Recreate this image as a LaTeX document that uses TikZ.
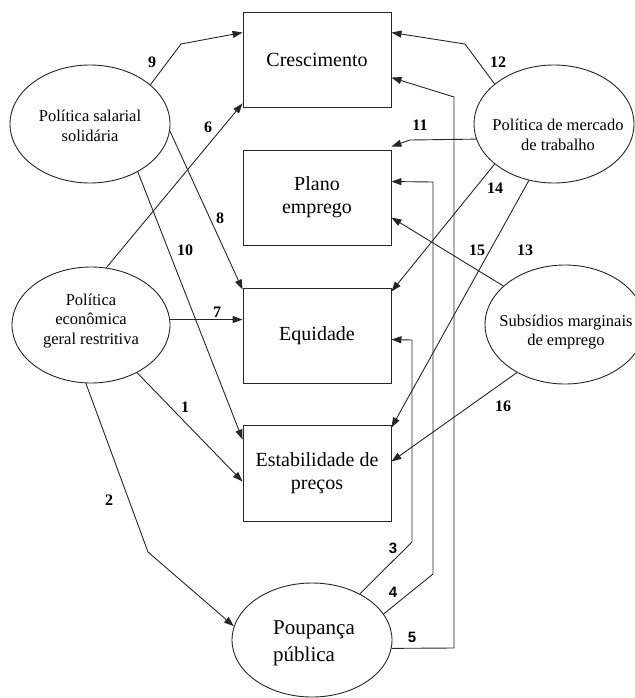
\documentclass[tikz,border=0pt]{standalone}
\usepackage{fontspec}
\setmainfont{Liberation Serif}
\newfontfamily\numsans{Liberation Sans}
\usetikzlibrary{arrows.meta,shapes.geometric}
\begin{document}
\begin{tikzpicture}[x=1pt,y=-1pt,
  conn/.style={draw=black!85,line width=0.9pt},
  arr/.style={conn,-{Triangle[length=10pt,width=7pt]}},
  box/.style={draw=black!85,line width=0.9pt,minimum width=148pt,minimum height=95pt,inner sep=0pt,align=center,font=\fontsize{20}{23}\selectfont},
  oval/.style={draw=black!85,line width=0.9pt,ellipse,inner sep=0pt,minimum width=160pt,minimum height=118pt},
  otext/.style={align=center,font=\fontsize{16.5}{19.5}\selectfont,inner sep=0pt},
  num/.style={font=\fontsize{16}{16}\selectfont\bfseries,inner sep=0pt},
  snum/.style={font=\fontsize{15}{15}\selectfont\numsans\bfseries,inner sep=0pt}]
\useasboundingbox (0,0) rectangle (634,698);
% boxes
\node[box] (cre) at (317,59.5) {Crescimento};
\node[box] (pla) at (317,197.5) {Plano\\emprego};
\node[box] (equ) at (317,335.5) {Equidade};
\node[box,minimum height=96pt] (est) at (317,473) {Estabilidade de\\preços};
% ellipses
\node[oval] (sal) at (90,124) {};
\node[otext] (salT) at (90,126) {Política salarial\\solidária};
\node[oval,minimum width=158pt,minimum height=116pt] (eco) at (91,325) {};
\node[otext] (ecoT) at (91,321) {Política\\econômica\\geral restritiva};
\node[oval] (mer) at (554,124) {};
\node[otext] (merT) at (558,135) {Política de mercado\\de trabalho};
\node[oval,minimum height=119pt] (sub) at (565,324.5) {};
\node[otext] (subT) at (566,332) {Subsídios marginais\\de emprego};
\node[oval,minimum height=114pt] (pou) at (312,640) {};
\node[font=\fontsize{21}{27}\selectfont,align=left,inner sep=0pt] (pouT) at (314,643) {Poupança\\pública};
% connectors
\draw[arr] (sal.33) -- (181,44) -- ([yshift=-21pt]cre.north west);
\draw[arr] (eco.75) -- ([yshift=4pt]cre.south west);
\draw[arr] (sal.-5) -- ([yshift=-2pt]equ.north west);
\draw[arr] (sal.-45) -- ([yshift=-15pt]est.north west);
\draw[arr] (eco.4) -- ([yshift=-32pt]equ.north west);
\draw[arr] (eco.-46) -- ([yshift=-57pt]est.north west);
\draw[arr] (eco.-95) -- (148,552) -- (pou.170);
\draw[arr] (mer.146) -- (465,44) -- ([yshift=-21pt]cre.north east);
\draw[arr] (mer.191) -- (410,140) -- ([yshift=3pt]pla.north east);
\draw[arr] (mer.214) -- ([yshift=-4pt]equ.north east);
\draw[arr] (mer.246) -- ([yshift=-3pt]est.north east);
\draw[arr] (sub.148) -- ([yshift=-68pt]pla.north east);
\draw[arr] (sub.225) -- ([yshift=-37pt]est.north east);
\draw[arr] (pou.44) -- (412,542) -- (412,340) -- ([yshift=-52pt]equ.north east);
\draw[arr] (pou.20) -- (433,574) -- (433,182) -- ([yshift=-32pt]pla.north east);
\draw[arr] (pou.-6) -- (454,648) -- (454,97) -- ([yshift=-66pt]cre.north east);
% labels
\node[num] (l9) at (152,62) {9};
\node[num] (l6) at (208,127) {6};
\node[num] (l8) at (220,218) {8};
\node[num] (l10) at (185,250) {10};
\node[num] (l7) at (217,312) {7};
\node[num] (l1) at (185,407) {1};
\node[num] (l2) at (109,500) {2};
\node[num] (l12) at (498,62) {12};
\node[num] (l11) at (420,125) {11};
\node[num] (l14) at (495,188) {14};
\node[num] (l15) at (477,250) {15};
\node[num] (l13) at (525,250) {13};
\node[num] (l16) at (503,406) {16};
\node[snum] (l3) at (393,548) {3};
\node[snum] (l4) at (393,592) {4};
\node[snum] (l5) at (412,637) {5};
\end{tikzpicture}
\end{document}
